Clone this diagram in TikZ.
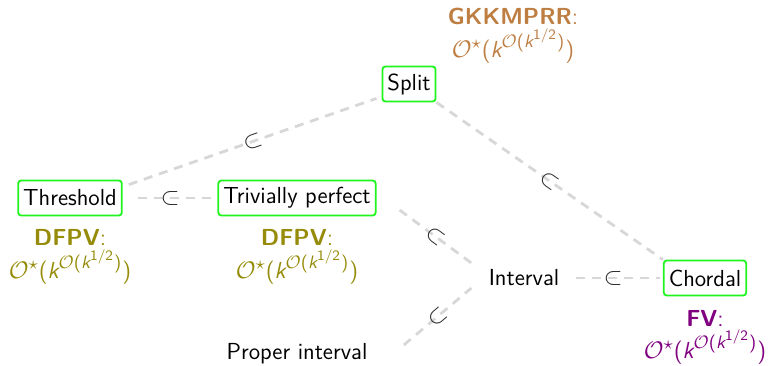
\documentclass[tikz,border=0pt]{standalone}
\usetikzlibrary{calc}
\usepackage{amsmath,amssymb}
\renewcommand{\familydefault}{\sfdefault}
\DeclareMathSizes{11.6}{11.6}{9}{7.2}
\definecolor{boxgreen}{RGB}{30,245,30}
\definecolor{edgegray}{RGB}{215,215,215}
\definecolor{gkbrown}{RGB}{190,125,65}
\definecolor{dfolive}{RGB}{150,140,10}
\definecolor{fvpurple}{RGB}{128,0,128}
\newcommand{\sfk}{\text{\itshape k}}
\newcommand{\cplx}{$\mathcal{O}^{\star}\text{(}\sfk^{\mathcal{O}\text{(}\sfk^{\text{1/2}}\text{)}}\text{)}$}
\tikzset{
  cls/.style={draw=boxgreen, line width=0.9pt, rounded corners=1.5pt, inner xsep=2.5pt, minimum height=17.5pt, font=\fontsize{11.6}{14}\selectfont, text=black},
  plain/.style={inner sep=2pt, font=\fontsize{11.6}{14}\selectfont},
  res/.style={font=\fontsize{11.6}{14}\selectfont, inner sep=0pt},
  edge/.style={draw=edgegray, line width=1.4pt, dash pattern=on 4.5pt off 3.5pt},
  sub/.style={midway, sloped, font=\fontsize{11.6}{14}\selectfont, inner sep=0pt, text=black!85}
}
\begin{document}
\begin{tikzpicture}[x=0.5pt, y=-0.5pt]
\useasboundingbox (0,0) rectangle (769,365);
\node[cls] (split) at (409,84) {Split};
\node[cls] (thr) at (70,198) {Threshold};
\node[cls] (tp) at (297,198) {Trivially perfect};
\node[plain] (int) at (524,278) {Interval};
\node[cls] (ch) at (705,278) {Chordal};
\node[plain] (pi) at (297,354) {Proper interval};

\node[res, text=gkbrown] (nsplit) at (513,16) {\textbf{GKKMPRR}:};
\node[res, text=gkbrown] (fsplit) at (513,46) {\cplx};
\node[res, text=dfolive] (nthr) at (70,237) {\textbf{DFPV}:};
\node[res, text=dfolive] (fthr) at (70,267) {\cplx};
\node[res, text=dfolive] (ntp) at (297,237) {\textbf{DFPV}:};
\node[res, text=dfolive] (ftp) at (297,267) {\cplx};
\node[res, text=fvpurple] (nch) at (705,318) {\textbf{FV}:};
\node[res, text=fvpurple] (fch) at (705,347) {\cplx};

\draw[edge] ($(thr.north east)+(6,5)$) -- node[sub] {$\subset$} ($(split.south west)+(-5,-4)$);
\draw[edge, shorten <=7.5pt, shorten >=3pt] (thr.east) -- node[sub] {$\subset$} (tp.west);
\draw[edge] (split.south east) -- node[sub] {$\subset$} (ch.north west);
\draw[edge] ($(tp.east)+(23,12)$) -- node[sub] {$\subset$} ($(int.west)+(-13,-15)$);
\draw[edge] ($(pi.east)+(32,-9)$) -- node[sub] {$\subset$} ($(int.west)+(-13,10)$);
\draw[edge, shorten <=6pt, shorten >=1.5pt] (int.east) -- node[sub] {$\subset$} (ch.west);
\end{tikzpicture}
\end{document}
